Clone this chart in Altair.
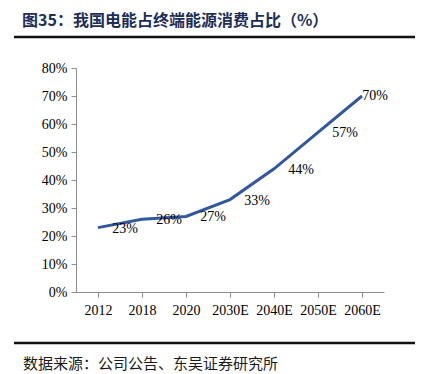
import altair as alt
import pandas as pd

years = ["2012", "2018", "2020", "2030E", "2040E", "2050E", "2060E"]
shares = [23, 26, 27, 33, 44, 57, 70]
labels = ["23%", "26%", "27%", "33%", "44%", "57%", "70%"]
title_text = "图35：我国电能占终端能源消费占比（%）"
source_text = "数据来源：公司公告、东吴证券研究所"
y_ticks = [0, 10, 20, 30, 40, 50, 60, 70, 80]

df = pd.DataFrame({"year": years, "share": shares, "label": labels})

W, H = 308, 224
SERIF = "Liberation Serif"
CJK = "Noto Sans CJK SC"

x = alt.X("year:N", sort=years, title=None,
          scale=alt.Scale(paddingInner=0, paddingOuter=0),
          axis=alt.Axis(labelAngle=0, labelFont=SERIF, labelFontSize=14, labelColor="#000000",
                        labelPadding=6, domainColor="#8c8c8c", tickColor="#8c8c8c",
                        tickSize=5, bandPosition=0, ticks=True, grid=False))
y = alt.Y("share:Q", title=None,
          scale=alt.Scale(domain=[0, 80], nice=False),
          axis=alt.Axis(values=y_ticks, labelExpr="datum.value + '%'", labelFont=SERIF,
                        labelFontSize=14, labelColor="#000000", labelPadding=4,
                        labelOverlap=False,
                        domainColor="#8c8c8c", tickColor="#8c8c8c", tickSize=5, grid=False))

base = alt.Chart(df)
line = base.mark_line(color="#3157a0", strokeWidth=3).encode(x=x, y=y)

lbl_main = base.transform_filter(alt.datum.year != "2060E").mark_text(
    font=SERIF, fontSize=14, color="#000000", dx=27, dy=1, align="center", baseline="middle"
).encode(x=x, y=y, text="label:N")
lbl_last = base.transform_filter(alt.datum.year == "2060E").mark_text(
    font=SERIF, fontSize=14, color="#000000", dx=13, dy=0, align="center", baseline="middle"
).encode(x=x, y=y, text="label:N")

title = alt.Chart(pd.DataFrame({"t": [title_text]})).mark_text(
    font=CJK, fontSize=16, fontWeight="bold", color="#1c2f5a", align="left", baseline="middle"
).encode(x=alt.value(-54), y=alt.value(-47), text="t:N")

top_rule = alt.Chart(pd.DataFrame({"a": [0]})).mark_rule(color="#111111", strokeWidth=2.5).encode(
    x=alt.value(-62), x2=alt.value(340), y=alt.value(-31))
bottom_rule = alt.Chart(pd.DataFrame({"a": [0]})).mark_rule(color="#111111", strokeWidth=2.5).encode(
    x=alt.value(-62), x2=alt.value(340), y=alt.value(275))

source = alt.Chart(pd.DataFrame({"t": [source_text]})).mark_text(
    font=CJK, fontSize=15, color="#1a1a1a", align="left", baseline="middle"
).encode(x=alt.value(-53), y=alt.value(296), text="t:N")

chart = alt.layer(line, lbl_main, lbl_last, title, top_rule, bottom_rule, source).properties(
    width=W, height=H,
    autosize=alt.AutoSizeParams(type="none"),
    padding={"left": 68, "top": 60, "right": 31, "bottom": 80},
).configure(background="#ffffff").configure_view(stroke=None).configure_axis(
    labelFont=SERIF, labelFontSize=14, labelColor="#000000")

chart.save("out.html", embed_options={"renderer": "svg", "actions": False})
